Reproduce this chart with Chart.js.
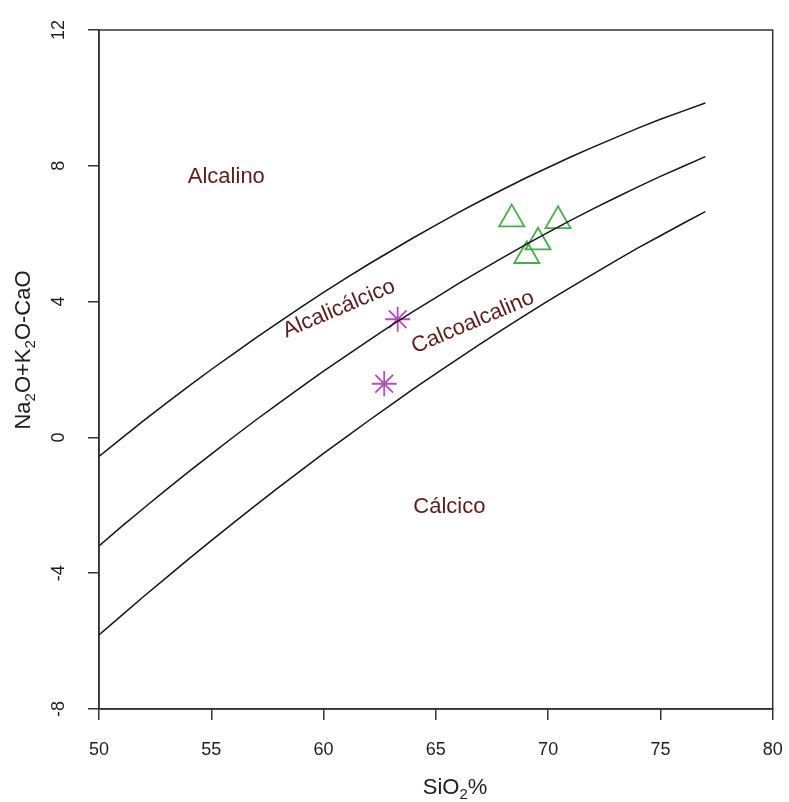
<!DOCTYPE html>
<html>
<head>
<meta charset="utf-8">
<script src="https://cdn.jsdelivr.net/npm/chart.js@4/dist/chart.umd.min.js"></script>
<style>
  html, body { margin: 0; padding: 0; background: #fff; overflow: hidden; }
  canvas { display: block; }
</style>
</head>
<body>
<canvas id="chart" width="789" height="802"></canvas>
<script>
// SiO2 values at which the field boundaries were read
const sio2Grid = [50, 51, 52, 53, 54, 55, 56, 57, 58, 59, 60, 61, 62, 63,
    64, 65, 66, 67, 68, 69, 70, 71, 72, 73, 74, 75, 76, 77];

// Na2O+K2O-CaO along each boundary
const limitAlcalino = [-0.56, -0.03, 0.50, 1.01, 1.51, 2.00, 2.47, 2.94, 3.39, 3.84,
    4.27, 4.69, 5.10, 5.49, 5.88, 6.25, 6.62, 6.97, 7.31, 7.64, 7.95, 8.26, 8.55, 8.83,
    9.11, 9.37, 9.61, 9.85];
const limitAlcalicalcico = [-3.20, -2.63, -2.08, -1.54, -1.01, -0.49, 0.02, 0.52, 1.00,
    1.48, 1.95, 2.40, 2.85, 3.29, 3.71, 4.12, 4.53, 4.92, 5.30, 5.68, 6.04, 6.39, 6.73,
    7.06, 7.38, 7.69, 7.98, 8.27];
const limitCalcoalcalino = [-5.82, -5.25, -4.68, -4.13, -3.58, -3.04, -2.51, -1.99, -1.47,
    -0.97, -0.47, 0.01, 0.49, 0.96, 1.43, 1.88, 2.32, 2.76, 3.19, 3.61, 4.02, 4.42, 4.81,
    5.20, 5.58, 5.94, 6.30, 6.65];

// samples
const starSiO2 = [63.3, 62.7];
const starValue = [3.48, 1.58];
const triSiO2 = [68.38, 70.44, 69.55, 69.05];
const triValue = [6.43, 6.38, 5.75, 5.35];

const xTickValues = [50, 55, 60, 65, 70, 75, 80];
const yTickValues = [-8, -4, 0, 4, 8, 12];

// field names, placed in data units
const fieldNames = ['Alcalino', 'Alcalicálcico', 'Calcoalcalino', 'Cálcico'];
const fieldSiO2 = [55.67, 60.69, 66.65, 65.6];
const fieldValue = [7.68, 3.79, 3.39, -2.04];
const fieldAngle = [0, -23, -23, 0];

const FONT = '"Liberation Sans", Arial, sans-serif';
const AXIS = '#333';
const TEXT = '#1e1e1e';
const FIELD = '#5e1b1b';

function pairs(xs, ys) {
    return xs.map((x, i) => ({ x: x, y: ys[i] }));
}

function boundary(ys) {
    return {
        data: pairs(sio2Grid, ys),
        showLine: true,
        borderColor: '#151515',
        borderWidth: 1.5,
        pointRadius: 0,
        tension: 0
    };
}

// draws text with subscripts, centred on cx, baseline at by
function drawSub(ctx, pieces, cx, by, size) {
    const small = Math.round(size * 0.68);
    let w = 0;
    pieces.forEach(p => {
        ctx.font = (p[1] ? small : size) + 'px ' + FONT;
        w += ctx.measureText(p[0]).width;
    });
    let x = cx - w / 2;
    ctx.textAlign = 'left';
    ctx.textBaseline = 'alphabetic';
    pieces.forEach(p => {
        ctx.font = (p[1] ? small : size) + 'px ' + FONT;
        ctx.fillText(p[0], x, by + (p[1] ? size * 0.22 : 0));
        x += ctx.measureText(p[0]).width;
    });
}

const decor = {
    id: 'decor',
    beforeDraw(chart) {
        const ctx = chart.ctx;
        ctx.save();
        ctx.fillStyle = '#fff';
        ctx.fillRect(0, 0, chart.width, chart.height);
        ctx.restore();
    },
    afterDraw(chart) {
        const { ctx, chartArea: a, scales: { x, y } } = chart;
        ctx.save();

        ctx.strokeStyle = AXIS;
        ctx.lineWidth = 1.5;
        ctx.strokeRect(a.left, a.top, a.right - a.left, a.bottom - a.top);

        ctx.fillStyle = TEXT;
        ctx.font = '18px ' + FONT;
        ctx.textAlign = 'center';
        ctx.textBaseline = 'alphabetic';
        xTickValues.forEach(v => {
            ctx.fillText(String(v), x.getPixelForValue(v), a.bottom + 46);
        });
        yTickValues.forEach(v => {
            ctx.save();
            ctx.translate(a.left - 35, y.getPixelForValue(v));
            ctx.rotate(-Math.PI / 2);
            ctx.fillText(String(v), 0, 0);
            ctx.restore();
        });

        // axis titles
        drawSub(ctx, [['SiO'], ['2', true], ['%']], a.left + 356, a.bottom + 85, 22);
        ctx.save();
        ctx.translate(a.left - 69, a.top + 320);
        ctx.rotate(-Math.PI / 2);
        drawSub(ctx, [['Na'], ['2', true], ['O+K'], ['2', true], ['O-CaO']], 0, 0, 22);
        ctx.restore();

        // field names
        ctx.fillStyle = FIELD;
        ctx.font = '22px ' + FONT;
        ctx.textAlign = 'center';
        ctx.textBaseline = 'middle';
        fieldNames.forEach((name, i) => {
            ctx.save();
            ctx.translate(x.getPixelForValue(fieldSiO2[i]), y.getPixelForValue(fieldValue[i]));
            ctx.rotate(fieldAngle[i] * Math.PI / 180);
            ctx.fillText(name, 0, 0);
            ctx.restore();
        });
        ctx.restore();
    }
};

const axisStyle = {
    grid: { drawOnChartArea: false, drawTicks: true, tickLength: 11, color: AXIS, lineWidth: 1.5 },
    border: { display: true, color: AXIS, width: 1.5 }
};

const config = {
    type: 'scatter',
    data: {
        datasets: [
            boundary(limitAlcalino),
            boundary(limitAlcalicalcico),
            boundary(limitCalcoalcalino),
            {
                data: pairs(starSiO2, starValue),
                pointStyle: 'star',
                pointRadius: 12.5,
                borderColor: '#b54bbd',
                backgroundColor: 'rgba(0,0,0,0)',
                borderWidth: 1.8
            },
            {
                data: pairs(triSiO2, triValue),
                pointStyle: 'triangle',
                pointRadius: 14.5,
                borderColor: '#48ad4c',
                backgroundColor: 'rgba(0,0,0,0)',
                borderWidth: 1.8
            }
        ]
    },
    options: {
        responsive: false,
        animation: false,
        layout: { padding: { left: 88, top: 30, right: 11, bottom: 82 } },
        plugins: { legend: { display: false }, tooltip: { enabled: false } },
        scales: {
            x: Object.assign({
                type: 'linear', min: 50, max: 80,
                ticks: { display: false },
                afterBuildTicks: s => { s.ticks = xTickValues.map(v => ({ value: v })); }
            }, axisStyle),
            y: Object.assign({
                type: 'linear', min: -8, max: 12,
                ticks: { display: false },
                afterBuildTicks: s => { s.ticks = yTickValues.map(v => ({ value: v })); }
            }, axisStyle)
        }
    },
    plugins: [decor]
};

new Chart(document.getElementById('chart'), config);
</script>
</body>
</html>
